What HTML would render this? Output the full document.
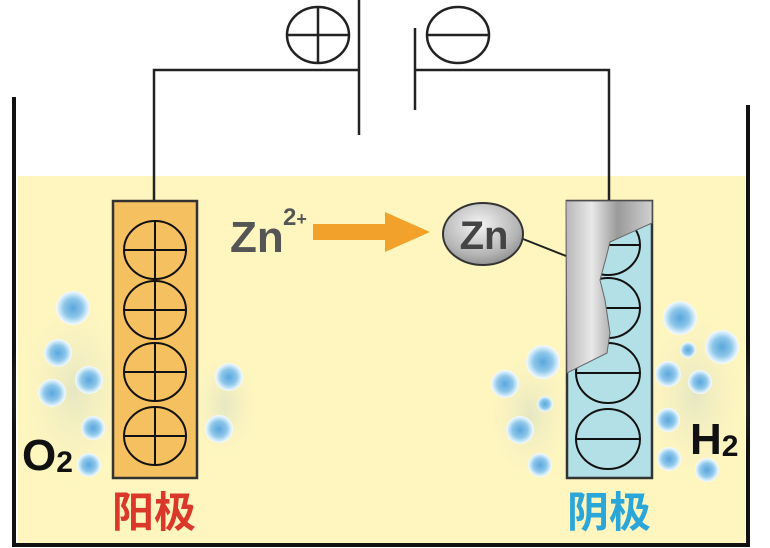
<!DOCTYPE html>
<html><head><meta charset="utf-8"><style>
body{margin:0;background:#fff;}
svg{display:block}
</style></head><body>
<svg width="770" height="548" viewBox="0 0 770 548" xmlns="http://www.w3.org/2000/svg">
<defs>
<radialGradient id="bub" cx="0.5" cy="0.5" r="0.5">
<stop offset="0" stop-color="#5aa6dc"/><stop offset="0.55" stop-color="#8cc6ea"/><stop offset="0.85" stop-color="#d4ecf8"/><stop offset="1" stop-color="#f6fbff"/>
</radialGradient>
<radialGradient id="glow" cx="0.5" cy="0.5" r="0.5">
<stop offset="0" stop-color="#d4dcc4" stop-opacity="0.6"/><stop offset="1" stop-color="#fff7c0" stop-opacity="0"/>
</radialGradient>
<linearGradient id="steel" x1="0" y1="0" x2="1" y2="0">
<stop offset="0" stop-color="#b8b8b8"/><stop offset="0.3" stop-color="#e8e8e8"/><stop offset="0.6" stop-color="#9a9a9a"/><stop offset="1" stop-color="#d0d0d0"/>
</linearGradient>
<radialGradient id="zn" cx="0.45" cy="0.35" r="0.7">
<stop offset="0" stop-color="#f4f4f4"/><stop offset="0.7" stop-color="#b4b4b4"/><stop offset="1" stop-color="#888"/>
</radialGradient>
</defs>
<rect x="18" y="176" width="727" height="367" fill="#fff6bf"/>
<path d="M14 97 V545 H748 V105" fill="none" stroke="#111" stroke-width="4"/>
<g stroke="#222" stroke-width="2.5" fill="none">
<path d="M154 201 V70 H359"/>
<path d="M415 70 H609 V201"/>
<line x1="359" y1="0" x2="359" y2="135"/>
<line x1="415" y1="28" x2="415" y2="110"/>
<ellipse cx="318" cy="35" rx="31" ry="28"/>
<line x1="287" y1="35" x2="349" y2="35"/><line x1="318" y1="7" x2="318" y2="63"/>
<ellipse cx="458" cy="35" rx="31" ry="28"/>
<line x1="427" y1="35" x2="489" y2="35"/>
</g>
<g fill="url(#glow)">
<ellipse cx="75" cy="390" rx="65" ry="110"/>
<ellipse cx="225" cy="405" rx="40" ry="60"/>
<ellipse cx="530" cy="415" rx="50" ry="75"/>
<ellipse cx="695" cy="395" rx="60" ry="100"/>
</g>
<rect x="113" y="201" width="84" height="277" fill="#f5c060" stroke="#333" stroke-width="2.5"/>
<g stroke="#111" stroke-width="2" fill="none">
<ellipse cx="155" cy="250" rx="31" ry="29"/><line x1="124" y1="250" x2="186" y2="250"/><line x1="155" y1="221" x2="155" y2="279"/>
<ellipse cx="155" cy="310" rx="31" ry="29"/><line x1="124" y1="310" x2="186" y2="310"/><line x1="155" y1="281" x2="155" y2="339"/>
<ellipse cx="155" cy="372" rx="31" ry="29"/><line x1="124" y1="372" x2="186" y2="372"/><line x1="155" y1="343" x2="155" y2="401"/>
<ellipse cx="155" cy="436" rx="31" ry="29"/><line x1="124" y1="436" x2="186" y2="436"/><line x1="155" y1="407" x2="155" y2="465"/>
</g>
<rect x="567" y="201" width="85" height="277" fill="#b2e0e6" stroke="#333" stroke-width="2.5"/>
<g stroke="#111" stroke-width="2" fill="none">
<ellipse cx="608" cy="245" rx="32" ry="30"/><line x1="576" y1="245" x2="640" y2="245"/>
<ellipse cx="608" cy="308" rx="32" ry="30"/><line x1="576" y1="308" x2="640" y2="308"/>
<ellipse cx="608" cy="373" rx="32" ry="30"/><line x1="576" y1="373" x2="640" y2="373"/>
<ellipse cx="608" cy="439" rx="32" ry="30"/><line x1="576" y1="439" x2="640" y2="439"/>
</g>
<path d="M566 201 H652 V223 L610 242 L606 258 L600 280 L605 300 L610 333 L607 353 L567 373 Z" fill="url(#steel)" stroke="#666" stroke-width="1"/>
<line x1="518" y1="237" x2="566" y2="256" stroke="#222" stroke-width="2"/>
<ellipse cx="483" cy="234" rx="40" ry="31" fill="url(#zn)" stroke="#333" stroke-width="2"/>
<text x="484" y="249" text-anchor="middle" font-family="Liberation Sans, sans-serif" font-weight="bold" font-size="40" fill="#444">Zn</text>
<path d="M313 224 H385 V212 L430 232 L385 252 V240 H313 Z" fill="#f2a12a"/>
<text x="230" y="252" font-family="Liberation Sans, sans-serif" font-weight="bold" font-size="44" fill="#555">Zn</text>
<text x="283" y="225" font-family="Liberation Sans, sans-serif" font-weight="bold" font-size="24" fill="#555">2<tspan font-size="18">+</tspan></text>
<g fill="url(#bub)">
<circle cx="73" cy="308" r="17"/><circle cx="58" cy="353" r="14"/><circle cx="89" cy="380" r="14"/><circle cx="52" cy="393" r="14"/><circle cx="93" cy="428" r="12"/><circle cx="89" cy="465" r="12"/><circle cx="229" cy="377" r="14"/><circle cx="219" cy="429" r="14"/>
<circle cx="680" cy="318" r="17"/><circle cx="688" cy="350" r="8"/><circle cx="722" cy="347" r="17"/><circle cx="668" cy="374" r="13"/><circle cx="700" cy="382" r="12"/><circle cx="668" cy="420" r="12"/><circle cx="669" cy="459" r="12"/><circle cx="707" cy="470" r="12"/><circle cx="543" cy="362" r="17"/><circle cx="505" cy="384" r="14"/><circle cx="545" cy="404" r="8"/><circle cx="520" cy="430" r="14"/><circle cx="540" cy="465" r="12"/>
</g>
<text x="22" y="470" font-family="Liberation Sans, sans-serif" font-weight="bold" font-size="44" fill="#111">O<tspan font-size="30" dy="2">2</tspan></text>
<text x="690" y="454" font-family="Liberation Sans, sans-serif" font-weight="bold" font-size="44" fill="#111">H<tspan font-size="30" dy="2">2</tspan></text>
<text x="112" y="527" font-family="Liberation Sans, 'Noto Sans CJK SC', sans-serif" font-weight="bold" font-size="42" fill="#d9382a">阳极</text>
<text x="567" y="527" font-family="Liberation Sans, 'Noto Sans CJK SC', sans-serif" font-weight="bold" font-size="42" fill="#2ba6d8">阴极</text>
</svg>
</body></html>
